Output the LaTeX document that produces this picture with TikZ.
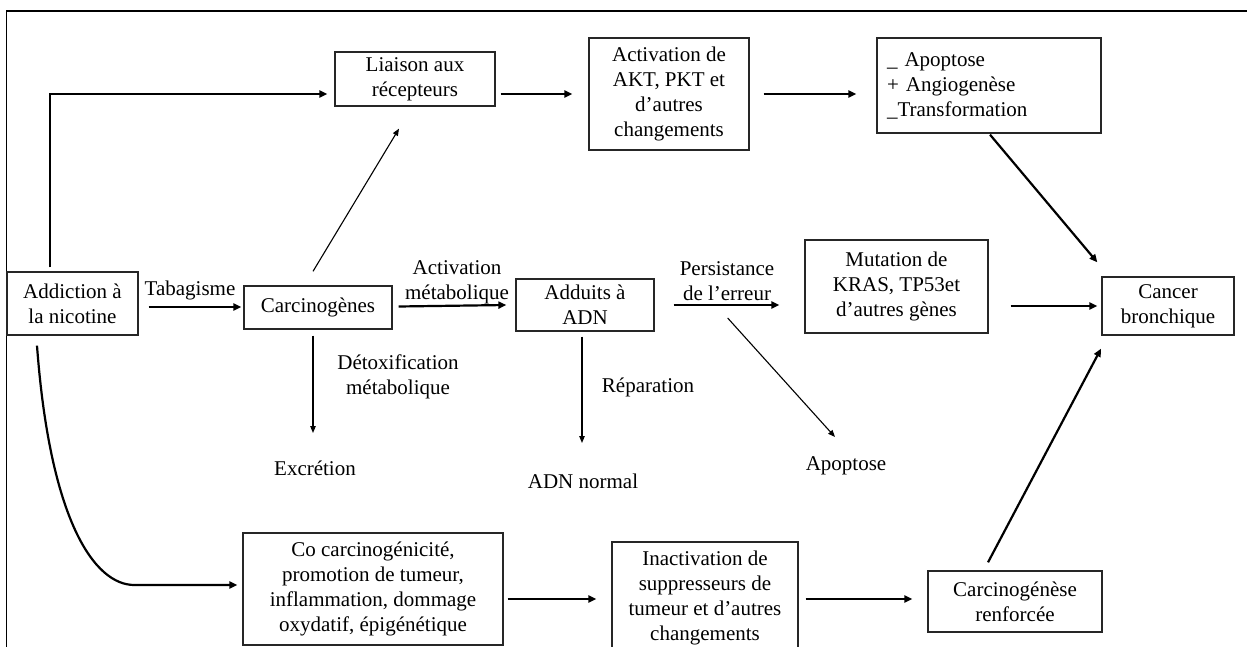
\documentclass[tikz,border=0pt]{standalone}
\usepackage{fontspec}
\setmainfont{Liberation Serif}
\usetikzlibrary{calc,arrows.meta}
\begin{document}
\begin{tikzpicture}[x=1pt,y=-1pt,
  txt/.style={font=\fontsize{21}{25}\selectfont, align=center, inner sep=0pt},
  bx/.style={txt, draw=black!85, line width=1.3pt},
  thk/.style={line width=2.2pt, -{Triangle[length=8pt,width=7pt]}},
  thn/.style={line width=1.1pt, -{Triangle[length=7pt,width=5.5pt]}}]
\useasboundingbox (0,0) rectangle (1247,647);
\clip (0,0) rectangle (1247,647);
\fill[white] (0,0) rectangle (1247,647);
% frame
\draw[line width=1.8pt] (1260,11) -- (6.5,11) -- (6.5,660);
% boxes
\node[bx, minimum width=131pt, minimum height=63pt] (A) at (72.5,303.5) {Addiction à\\la nicotine};
\node[bx, minimum width=148pt, minimum height=43pt] (C) at (318,307.5) {Carcinogènes};
\node[bx, minimum width=160pt, minimum height=54pt] (L) at (415,79) {Liaison aux\\récepteurs};
\node[bx, minimum width=160pt, minimum height=112pt] (K) at (669,94) {Activation de\\AKT, PKT et\\d’autres\\changements};
\node[bx, minimum width=224pt, minimum height=95pt, text width=204pt, inner xsep=10pt, align=left] (P) at (989,85.5) {\_ Apoptose\\+ Angiogenèse\\\_Transformation};
\node[bx, minimum width=138pt, minimum height=52pt] (D) at (585,305) {Adduits à\\ADN};
\node[bx, minimum width=183pt, minimum height=93pt] (M) at (896.5,286.5) {Mutation de\\KRAS, TP53et\\d’autres gènes};
\node[bx, minimum width=132pt, minimum height=58pt] (B) at (1168,306) {Cancer\\bronchique};
\node[bx, minimum width=260pt, minimum height=112pt] (O) at (373,589) {Co carcinogénicité,\\promotion de tumeur,\\inflammation, dommage\\oxydatif, épigénétique};
\node[bx, minimum width=186pt, minimum height=112pt] (I) at (705,598) {Inactivation de\\suppresseurs de\\tumeur et d’autres\\changements};
\node[bx, minimum width=174pt, minimum height=61pt] (R) at (1015,601.5) {Carcinogénèse\\renforcée};
% labels
\node[txt] (tab) at (190,290) {Tabagisme};
\node[txt] (am) at (457,282) {Activation\\métabolique};
\node[txt] (dm) at (398,377) {Détoxification\\métabolique};
\node[txt] (X) at (315,468) {Excrétion};
\node[txt] (rep) at (648,387) {Réparation};
\node[txt] (N) at (583,481) {ADN normal};
\node[txt] (pe) at (727,281) {Persistance\\de l’erreur};
\node[txt] (Ap) at (846,466) {Apoptose};
% connectors
\draw[thk] ($(A.north)+(-22.5,-4)$) |- ($(L.west|-K.west)+(-7,0)$);
\draw[thk] ($(L.east|-K.west)+(5,0)$) -- ($(K.west)+(-16,0)$);
\draw[thk] ($(K.east)+(14,0)$) -- ($(K.east-|P.west)+(-20,0)$);
\draw[thk] ($(P.south)+(1,1)$) -- ($(B.north west)+(-4,-14)$);
\draw[thk] ($(A.east)+(10,3.5)$) -- ($(C.west)+(-2,-0.5)$);
\draw[thn] ($(C.north)+(-5,-14)$) -- ($(L.south)+(-16,22)$);
\draw[thk] ($(C.east)+(6,-1)$) -- ($(D.west)+(-9,0)$);
\draw[thn] ($(C.south)+(-5,6)$) -- ($(X.center)+(-2,-35)$);
\draw[thn] ($(D.south)+(-3,5)$) -- ($(N.center)+(-1,-38)$);
\draw[thk] ($(D.east)+(19,0)$) -- ($(M.west|-D.east)+(-25,0)$);
\draw[thn] ($(D.east)+(73,13)$) -- ($(Ap.center)+(-11,-29)$);
\draw[thk] ($(M.east|-B.west)+(22,0)$) -- ($(B.west)+(-4,0)$);
\draw[thk] ($(O.east)+(4,10)$) -- ($(I.west)+(-15,1)$);
\draw[thk] ($(I.east)+(7,1)$) -- ($(R.west)+(-15,-2.5)$);
\draw[thk] ($(R.north)+(-27,-8)$) -- ($(B.south)+(-67,13)$);
\draw[thk] ($(A.south)+(-35.5,10)$) .. controls ($(A.south)+(-22.5,185)$) and ($(O.west)+(-148,-4)$) .. ($(O.west)+(-108,-4)$) -- ($(O.west)+(-5,-4)$);
\end{tikzpicture}
\end{document}
